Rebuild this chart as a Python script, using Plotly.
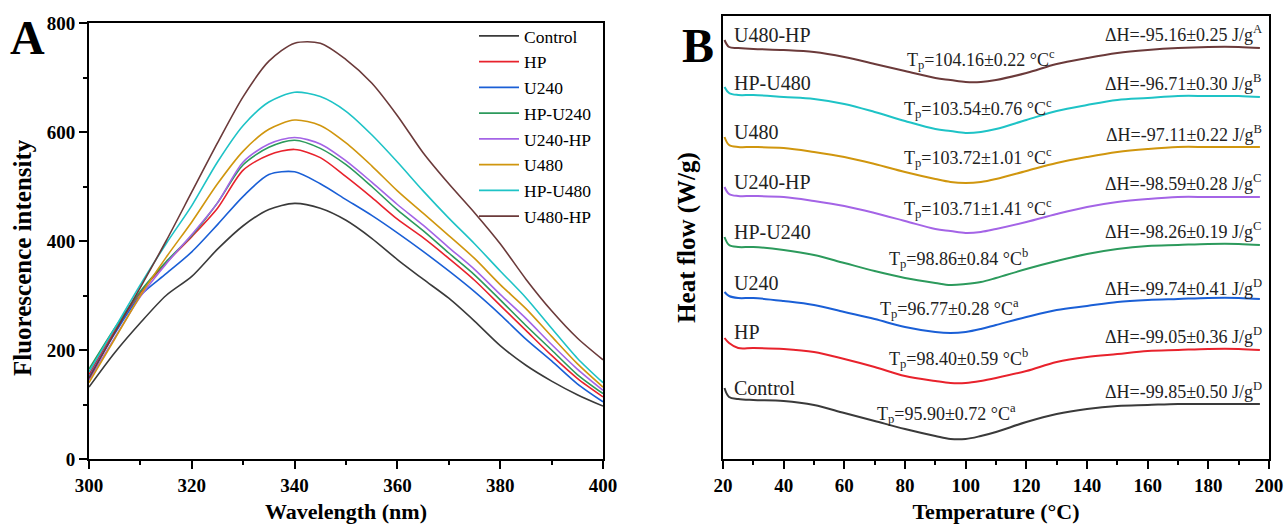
import plotly.graph_objects as go

# ---------------- Panel A: fluorescence spectra ----------------
wavelength = [300, 305, 310, 315, 320, 325, 330, 335, 340, 345, 350,
              355, 360, 365, 370, 375, 380, 385, 390, 395, 400]

samples = ['Control', 'HP', 'U240', 'HP-U240', 'U240-HP', 'U480', 'HP-U480', 'U480-HP']
colors = ['#3a3a3a', '#e8222c', '#1a5fd6', '#2c9a5c', '#a464e6', '#d0960e', '#1ec3c6', '#6b3a3a']

fluor_control = [132, 195, 250, 300, 335, 385, 428, 458, 469, 460, 438, 405, 366, 330, 295, 253, 208, 172, 143, 118, 97]
fluor_hp = [155, 235, 305, 360, 408, 460, 530, 558, 568, 553, 518, 480, 440, 406, 368, 328, 282, 236, 190, 148, 114]
fluor_u240 = [150, 230, 300, 340, 380, 430, 482, 522, 527, 505, 476, 447, 415, 381, 345, 307, 265, 220, 180, 138, 105]
fluor_hp_u240 = [165, 240, 308, 362, 410, 470, 540, 572, 585, 570, 540, 500, 457, 419, 378, 338, 292, 245, 200, 155, 120]
fluor_u240_hp = [145, 222, 298, 358, 412, 470, 545, 578, 590, 578, 547, 508, 467, 429, 388, 348, 302, 258, 210, 165, 126]
fluor_u480 = [140, 220, 300, 370, 435, 505, 565, 605, 622, 612, 580, 538, 492, 451, 410, 368, 320, 276, 225, 175, 132]
fluor_hp_u480 = [160, 240, 320, 395, 465, 545, 612, 655, 673, 665, 638, 595, 545, 492, 442, 395, 345, 296, 240, 185, 140]
fluor_u480_hp = [148, 232, 315, 400, 490, 580, 665, 730, 763, 763, 733, 690, 630, 562, 505, 452, 395, 330, 272, 222, 182]

fluor = [fluor_control, fluor_hp, fluor_u240, fluor_hp_u240,
         fluor_u240_hp, fluor_u480, fluor_hp_u480, fluor_u480_hp]

# ---------------- Panel B: DSC thermograms (stacked, offset) ----------------
temperature = [20.5, 22, 25, 30, 40, 50, 60, 70, 80, 90, 95, 100, 105,
               110, 120, 130, 140, 150, 160, 170, 180, 190, 197]

dsc_control = [0.71, 0.62, 0.60, 0.59, 0.58, 0.54, 0.46, 0.38, 0.30, 0.23, 0.20, 0.20, 0.23,
               0.27, 0.37, 0.45, 0.50, 0.53, 0.54, 0.55, 0.55, 0.55, 0.55]
dsc_hp = [1.21, 1.16, 1.11, 1.11, 1.10, 1.07, 1.00, 0.92, 0.83, 0.78, 0.76, 0.76, 0.78,
          0.81, 0.88, 0.97, 1.02, 1.05, 1.08, 1.09, 1.10, 1.10, 1.09]
dsc_u240 = [1.67, 1.63, 1.61, 1.61, 1.58, 1.54, 1.47, 1.40, 1.32, 1.27, 1.26, 1.27, 1.30,
            1.34, 1.42, 1.49, 1.53, 1.57, 1.59, 1.60, 1.61, 1.61, 1.60]
dsc_hp_u240 = [2.22, 2.14, 2.12, 2.12, 2.09, 2.04, 1.96, 1.88, 1.81, 1.76, 1.74, 1.75, 1.77,
               1.81, 1.90, 1.98, 2.05, 2.10, 2.13, 2.14, 2.15, 2.15, 2.14]
dsc_u240_hp = [2.72, 2.65, 2.63, 2.63, 2.62, 2.58, 2.53, 2.46, 2.38, 2.30, 2.28, 2.26, 2.27,
               2.30, 2.37, 2.45, 2.52, 2.57, 2.60, 2.62, 2.62, 2.62, 2.62]
dsc_u480 = [3.22, 3.14, 3.12, 3.12, 3.11, 3.07, 3.02, 2.95, 2.87, 2.80, 2.77, 2.76, 2.77,
            2.80, 2.88, 2.96, 3.02, 3.07, 3.10, 3.12, 3.12, 3.12, 3.12]
dsc_hp_u480 = [3.72, 3.66, 3.64, 3.64, 3.62, 3.60, 3.55, 3.47, 3.38, 3.30, 3.28, 3.26, 3.27,
               3.30, 3.39, 3.48, 3.54, 3.59, 3.61, 3.63, 3.63, 3.63, 3.62]
dsc_u480_hp = [4.19, 4.12, 4.11, 4.10, 4.09, 4.07, 4.02, 3.95, 3.88, 3.81, 3.79, 3.77, 3.77,
               3.79, 3.86, 3.95, 4.01, 4.06, 4.09, 4.11, 4.12, 4.12, 4.11]

dsc = [dsc_control, dsc_hp, dsc_u240, dsc_hp_u240,
       dsc_u240_hp, dsc_u480, dsc_hp_u480, dsc_u480_hp]

tp_text = ['95.90±0.72 °C<sup>a</sup>', '98.40±0.59 °C<sup>b</sup>', '96.77±0.28 °C<sup>a</sup>',
           '98.86±0.84 °C<sup>b</sup>', '103.71±1.41 °C<sup>c</sup>', '103.72±1.01 °C<sup>c</sup>',
           '103.54±0.76 °C<sup>c</sup>', '104.16±0.22 °C<sup>c</sup>']
dh_text = ['-99.85±0.50 J/g<sup>D</sup>', '-99.05±0.36 J/g<sup>D</sup>', '-99.74±0.41 J/g<sup>D</sup>',
           '-98.26±0.19 J/g<sup>C</sup>', '-98.59±0.28 J/g<sup>C</sup>', '-97.11±0.22 J/g<sup>B</sup>',
           '-96.71±0.30 J/g<sup>B</sup>', '-95.16±0.25 J/g<sup>A</sup>']
# label anchor positions (temperature for Tp label left edge, heat flow for rows)
tp_label_x = [70, 74, 71, 74, 79, 79, 79, 80]
name_y = [0.71, 1.27, 1.76, 2.27, 2.77, 3.27, 3.76, 4.24]
tp_y = [0.46, 1.01, 1.51, 2.01, 2.51, 3.02, 3.51, 4.00]
dh_y = [0.69, 1.24, 1.72, 2.29, 2.77, 3.26, 3.77, 4.26]

FONT = 'Liberation Serif'

fig = go.Figure()

for name, col, vals in zip(samples, colors, fluor):
    fig.add_trace(go.Scatter(x=wavelength, y=vals, mode='lines', name=name,
                             line=dict(color=col, width=1.6, shape='spline', smoothing=0.8),
                             xaxis='x', yaxis='y'))

for name, col, vals in zip(samples, colors, dsc):
    fig.add_trace(go.Scatter(x=temperature, y=vals, mode='lines', name=name,
                             line=dict(color=col, width=2, shape='spline'),
                             xaxis='x2', yaxis='y2', showlegend=False))

axis_common = dict(showline=True, linecolor='black', linewidth=2, mirror=True,
                   ticks='outside', ticklen=8, tickwidth=2, tickcolor='black',
                   showgrid=False, zeroline=False, automargin=False,
                   tickfont=dict(family=FONT, size=19, color='black', weight='bold'))
minor_ticks = dict(ticks='outside', ticklen=4, tickwidth=1.5, tickcolor='black')

fig.update_layout(
    width=1285, height=524,
    margin=dict(l=0, r=0, t=0, b=0, autoexpand=False),
    paper_bgcolor='white', plot_bgcolor='white',
    font=dict(family=FONT, color='black'),
    xaxis=dict(axis_common, domain=[89 / 1285, 603 / 1285], range=[300, 400],
               tickvals=[300, 320, 340, 360, 380, 400],
               minor=dict(minor_ticks, dtick=10),
               title=dict(text='Wavelength (nm)', standoff=12,
                          font=dict(family=FONT, size=22, weight='bold'))),
    yaxis=dict(axis_common, domain=[1 - 459 / 524, 1 - 23 / 524], range=[0, 800],
               tickvals=[0, 200, 400, 600, 800],
               minor=dict(minor_ticks, dtick=100)),
    xaxis2=dict(axis_common, domain=[723 / 1285, 1269 / 1285], range=[20, 200],
                anchor='y2', tickvals=list(range(20, 201, 20)),
                minor=dict(minor_ticks, dtick=10),
                title=dict(text='Temperature (°C)', standoff=12,
                           font=dict(family=FONT, size=22, weight='bold'))),
    yaxis2=dict(axis_common, domain=[1 - 459 / 524, 1 - 16 / 524], range=[0, 4.43],
                anchor='x2', ticks='', showticklabels=False,
                title=dict(text='Heat flow (W/g)', standoff=18,
                           font=dict(family=FONT, size=25, weight='bold'))),
    legend=dict(x=474 / 1285, y=1 - 18 / 524, xanchor='left', yanchor='top',
                bgcolor='rgba(0,0,0,0)', borderwidth=0,
                font=dict(family=FONT, size=17.5, color='black'),
                tracegroupgap=0, itemwidth=40),
    showlegend=True,
)

annotations = [
    dict(text='<b>A</b>', x=8 / 1285, y=1 - 38 / 524, xref='paper', yref='paper',
         xanchor='left', yanchor='middle', showarrow=False,
         font=dict(family=FONT, size=48, color='black')),
    dict(text='<b>B</b>', x=680 / 1285, y=1 - 45 / 524, xref='paper', yref='paper',
         xanchor='left', yanchor='middle', showarrow=False,
         font=dict(family=FONT, size=48, color='black')),
    dict(text='<b>Fluorescence intensity</b>', x=22 / 1285, y=1 - 258 / 524,
         xref='paper', yref='paper', xanchor='center', yanchor='middle',
         textangle=-90, showarrow=False,
         font=dict(family=FONT, size=25, color='black')),
]
for i, name in enumerate(samples):
    annotations.append(dict(text=name, x=23, y=name_y[i], xref='x2', yref='y2',
                            xanchor='left', yanchor='middle', showarrow=False,
                            font=dict(family=FONT, size=20, color='#222')))
    annotations.append(dict(text='T<sub>p</sub>=' + tp_text[i], x=tp_label_x[i], y=tp_y[i],
                            xref='x2', yref='y2', xanchor='left', yanchor='middle',
                            showarrow=False, font=dict(family=FONT, size=18, color='#222')))
    annotations.append(dict(text='ΔH=' + dh_text[i], x=198.5, y=dh_y[i], xref='x2', yref='y2',
                            xanchor='right', yanchor='middle', showarrow=False,
                            font=dict(family=FONT, size=18, color='#222')))
fig.update_layout(annotations=annotations)

# remove the default page margin so the figure sits at the window corner
fig.write_html('out.html', config={'displayModeBar': False},
               post_script="document.body.style.margin='0';")
